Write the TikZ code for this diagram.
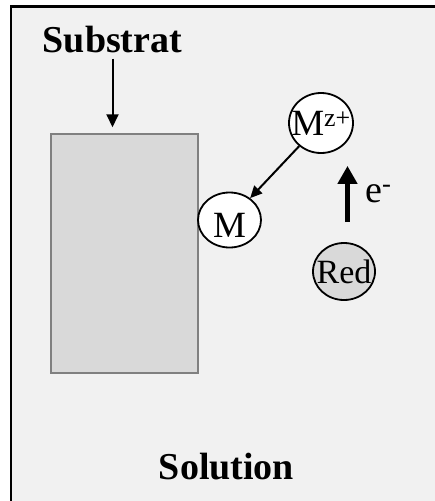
\documentclass[tikz,border=0pt]{standalone}
\usepackage{fontspec}
\setmainfont{Liberation Serif}
\usetikzlibrary{arrows.meta, shapes.geometric}

\definecolor{solbg}{HTML}{F1F1F1}
\definecolor{subfill}{HTML}{D9D9D9}
\definecolor{subedge}{HTML}{808080}

\begin{document}
\begin{tikzpicture}[x=1pt, y=-1pt,
    ion/.style={ellipse, draw, line width=1.8pt, fill=white, inner sep=0pt,
      minimum width=63pt, minimum height=58pt, font=\fontsize{37}{40}\selectfont},
    title/.style={anchor=base, inner sep=0pt, font=\fontsize{38}{40}\selectfont\bfseries}]
  % Frame:
  \useasboundingbox (0,0) rectangle (435,501);
  \fill[solbg] (11,7) rectangle (435,501);
  \draw[line width=2.5pt] (11,501) -- (11,6.7) -- (435,6.7);
  % Substrate:
  \node[draw=subedge, fill=subfill, line width=1.5pt, minimum width=147pt,
    minimum height=239pt, inner sep=0pt] (box) at (124.5,253.5) {};
  \node[title] (sub) at (112.5,52) {Substrat};
  \draw[line width=2pt, -{Triangle[length=13pt,width=12pt]}, shorten <=6pt, shorten >=6pt]
    (sub.south) -- (sub.south |- box.north);
  % Ions:
  \node[ion, minimum width=64pt, minimum height=60pt] (mz) at (321,123) {\makebox[0pt]{M\textsuperscript{z+}}};
  \node[ion, minimum height=55pt, text height=34pt] (m) at (229.5,220) {\makebox[0pt]{M}};
  \node[ion, fill=subfill, minimum width=62pt, minimum height=57pt,
    font=\fontsize{34}{36}\selectfont] (red) at (344,271.5) {\makebox[0pt]{Red}};
  \draw[line width=2pt, -{Triangle[length=12pt,width=11pt]}] (mz) -- (m);
  % Electron transfer:
  \draw[line width=5pt, -{Triangle[length=18pt,width=19pt]}, shorten <=20pt, shorten >=12pt]
    ([xshift=3.5pt]red.north) -- ([xshift=3.5pt]red.north |- mz.south);
  \node[anchor=base west, inner sep=0pt, font=\fontsize{38}{40}\selectfont] (e) at (365,202) {e\textsuperscript{-}};
  % Solution:
  \node[title] (sol) at (226.5,479) {Solution};
\end{tikzpicture}
\end{document}
